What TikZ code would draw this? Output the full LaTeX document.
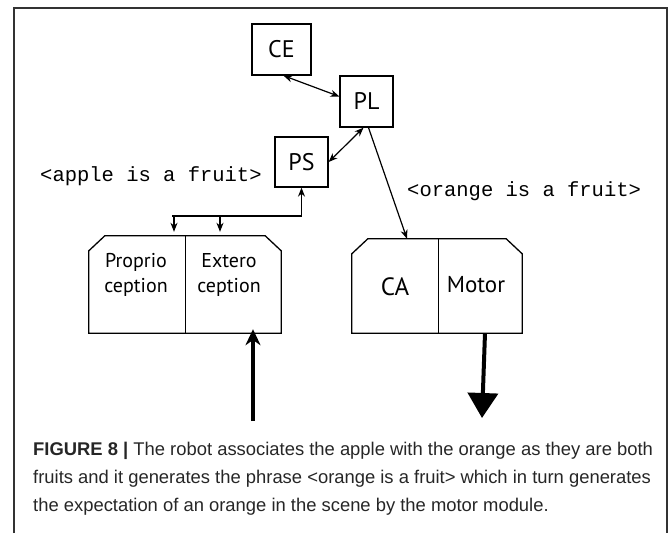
\documentclass[tikz,border=0pt]{standalone}
\usepackage{fontspec}
\setmainfont{PT Sans}
\newfontfamily\monofont{Liberation Mono}
\newfontfamily\capfont{Liberation Sans}
\usetikzlibrary{arrows.meta,calc}

\begin{document}
\begin{tikzpicture}[x=1pt,y=-1pt,
  unit/.style={draw, line width=1.3pt, inner sep=0pt, font=\fontsize{24}{26}\selectfont},
  half/.style={draw=none, inner sep=0pt},
  outline/.style={line width=1.3pt, line join=miter},
  label text/.style={align=center, inner sep=0pt, font=\fontsize{20}{25}\selectfont},
  link/.style={line width=1.2pt, -{Stealth[length=9pt,width=7pt]}},
  both/.style={line width=1.2pt, {Stealth[length=9pt,width=7pt]}-{Stealth[length=9pt,width=7pt]}},
  heavy/.style={line width=4pt},
  phrase/.style={inner sep=0pt, anchor=base west, font=\monofont\fontsize{20.5}{22}\selectfont},
  caption line/.style={inner sep=0pt, anchor=base west, text=black!85,
    font=\capfont\fontsize{18.4}{20}\selectfont},
  frame/.style={line width=1.5pt, draw=black!80}]
\useasboundingbox (0,0) rectangle (672,533);

% page frame, open at the bottom
\draw[frame] (14,533) -- (14,8) -- (667,8) -- (667,533);

% control units
\node[unit, minimum width=59pt, minimum height=51pt] (CE) at (281.5,49.5) {CE};
\node[unit, minimum width=53pt, minimum height=51pt] (PL) at (366.5,101.5) {PL};
\node[unit, minimum width=53pt, minimum height=50pt] (PS) at (301.5,162) {PS};

% sensory module
\node[half, minimum width=96pt, minimum height=97pt] (pro) at (137,284.5) {};
\node[half, minimum width=96pt, minimum height=97pt] (ext) at (233,284.5) {};
\draw[outline] ($(pro.north west)+(0,15)$) -- ($(pro.north west)+(16,0)$)
  -- ($(ext.north east)+(-16,0)$) -- ($(ext.north east)+(0,15)$)
  -- (ext.south east) -- (pro.south west) -- cycle;
\draw[outline] (pro.north east) -- (pro.south east);
\node[label text] (protext) at (136,275) {Proprio\\ception};
\node[label text] (exttext) at (229,275) {Extero\\ception};

% motor module
\node[half, minimum width=86pt, minimum height=94pt] (ca) at (395,286) {};
\node[half, minimum width=84pt, minimum height=94pt] (mot) at (480,286) {};
\draw[outline] ($(ca.north west)+(0,15)$) -- ($(ca.north west)+(16,0)$)
  -- ($(mot.north east)+(-16,0)$) -- ($(mot.north east)+(0,15)$)
  -- (mot.south east) -- (ca.south west) -- cycle;
\draw[outline] (ca.north east) -- (ca.south east);
\node[label text, font=\fontsize{25}{26}\selectfont] (catext) at (395,287) {CA};
\node[label text, font=\fontsize{23}{26}\selectfont] (mottext) at (476,285) {Motor};

% phrases
\node[phrase] (apple) at (40,181) {<apple is a fruit>};
\node[phrase] (orange) at (407,196) {<orange is a fruit>};

% connections between units
\draw[both] ([xshift=2pt]CE.south) -- ([yshift=5pt]PL.west);
\draw[both] ([xshift=-3pt]PL.south) -- (PS.east);
\draw[link] ([xshift=2pt]PL.south) -- ([xshift=12pt]ca.north);

% feedback from PS to the sensory module
\coordinate (j) at (172,216);
\coordinate (d1) at (174,216);
\coordinate (d2) at (220,216);
\draw[link] (j) -| (PS.south);
\draw[link] (d1) -- ([yshift=4pt]d1 |- pro.north);
\draw[link] (d2) -- ([yshift=4pt]d2 |- ext.north);

% sensory input and motor output
\coordinate (inS) at (253,421);
\draw[heavy, -{Stealth[length=16pt,width=15pt]}] (inS) -- ([yshift=4pt]inS |- ext.south);
\coordinate (outM) at (482,418);
\draw[heavy, -{Triangle[length=25pt,width=30pt]}] (mot.south -| 485,0) -- (outM);

% caption
\node[caption line] (cap1) at (33,455) {\textbf{FIGURE 8 |} The robot associates the apple with the orange as they are both};
\node[caption line] (cap2) at (33,483) {fruits and it generates the phrase <orange is a fruit> which in turn generates};
\node[caption line] (cap3) at (33,511) {the expectation of an orange in the scene by the motor module.};
\end{tikzpicture}
\end{document}
